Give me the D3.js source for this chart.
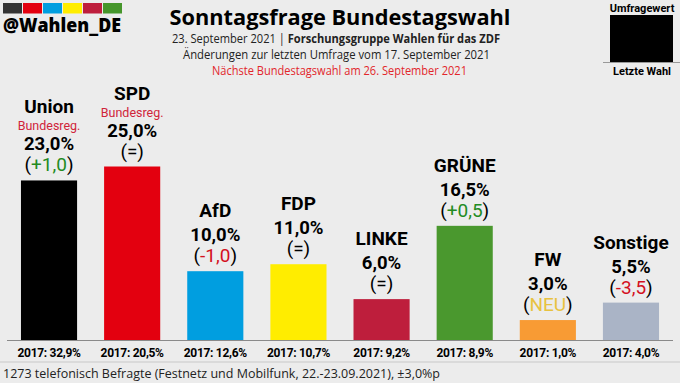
<!DOCTYPE html>
<html>
<head>
<meta charset="utf-8">
<script src="https://cdn.jsdelivr.net/npm/d3@7"></script>
<style>
  body { margin: 0; background: #ececec; }
  svg { display: block; font-family: Roboto, "Open Sans", sans-serif; }
</style>
</head>
<body>
<div id="chart"></div>
<script>
const parties = ['Union', 'SPD', 'AfD', 'FDP', 'LINKE', 'GRÜNE', 'FW', 'Sonstige'];
const values = [23.0, 25.0, 10.0, 11.0, 6.0, 16.5, 3.0, 5.5];
const changes = ['+1,0', '=', '-1,0', '=', '=', '+0,5', 'NEU', '-3,5'];
const lastElection = [32.9, 20.5, 12.6, 10.7, 9.2, 8.9, 1.0, 4.0];
const government = ['Union', 'SPD'];
const colors = ['#000000', '#e3000f', '#009ee0', '#ffed00', '#be1e3c', '#4a982e', '#f89b34', '#aab4c6'];
const logoColors = ['#333333', '#e3000f', '#009ee0', '#ffed00', '#be1e3c', '#46962b'];

const width = 680, height = 383;
const de = d3.formatLocale({decimal: ',', thousands: '.', grouping: [3], currency: ['', '€']});
const pct = de.format('.1f');

let data = parties.map((p, i) => ({
    party: p, value: values[i], change: changes[i], last: lastElection[i], color: colors[i]
}));

let svg = d3.select('#chart')
    .append('svg')
    .attr('width', width)
    .attr('height', height);

svg.append('rect').attr('width', width).attr('height', height).attr('fill', '#ececec');

let x = d3.scaleBand()
    .domain(parties)
    .range([7, 673])
    .paddingInner(0.325)
    .paddingOuter(0.168);

let y = d3.scaleLinear()
    .domain([0, 25])
    .range([341, 166.5]);

// header: logo
svg.selectAll('rect.logo')
    .data(logoColors)
    .enter()
    .append('rect')
    .attr('class', 'logo')
    .attr('x', (d, i) => 3 + i * 20)
    .attr('y', 3)
    .attr('width', 19)
    .attr('height', 10.5)
    .attr('fill', d => d);

svg.append('text')
    .attr('x', 3).attr('y', 32)
    .attr('font-family', '"Open Sans", sans-serif')
    .attr('font-weight', 800)
    .attr('font-size', 18.5)
    .attr('textLength', 118)
    .attr('lengthAdjust', 'spacingAndGlyphs')
    .text('@Wahlen_DE');

// title block
svg.append('text')
    .attr('x', 340).attr('y', 25)
    .attr('text-anchor', 'middle')
    .attr('font-family', '"Open Sans", sans-serif')
    .attr('font-weight', 700)
    .attr('font-size', 21)
    .attr('textLength', 341)
    .attr('lengthAdjust', 'spacingAndGlyphs')
    .text('Sonntagsfrage Bundestagswahl');

let sub1 = svg.append('text')
    .attr('x', 336).attr('y', 42.5)
    .attr('text-anchor', 'middle')
    .attr('font-family', '"Open Sans", sans-serif')
    .attr('font-size', 12)
    .attr('textLength', 328)
    .attr('lengthAdjust', 'spacingAndGlyphs')
    .attr('fill', '#222');
sub1.append('tspan').text('23. September 2021 | ');
sub1.append('tspan').attr('font-weight', 700).text('Forschungsgruppe Wahlen für das ZDF');

svg.append('text')
    .attr('x', 336.5).attr('y', 58.5)
    .attr('text-anchor', 'middle')
    .attr('font-family', '"Open Sans", sans-serif')
    .attr('font-size', 12)
    .attr('textLength', 307)
    .attr('lengthAdjust', 'spacingAndGlyphs')
    .attr('fill', '#222')
    .text('Änderungen zur letzten Umfrage vom 17. September 2021');

svg.append('text')
    .attr('x', 339.5).attr('y', 74.5)
    .attr('text-anchor', 'middle')
    .attr('font-family', '"Open Sans", sans-serif')
    .attr('font-size', 12)
    .attr('textLength', 255)
    .attr('lengthAdjust', 'spacingAndGlyphs')
    .attr('fill', '#e2262b')
    .text('Nächste Bundestagswahl am 26. September 2021');

// legend box top right
svg.append('text')
    .attr('x', 642).attr('y', 12)
    .attr('text-anchor', 'middle')
    .attr('font-weight', 700).attr('font-size', 11)
    .text('Umfragewert');
svg.append('rect')
    .attr('x', 610).attr('y', 15).attr('width', 63).attr('height', 47)
    .attr('fill', '#000');
svg.append('line')
    .attr('x1', 603).attr('x2', 680).attr('y1', 62.5).attr('y2', 62.5)
    .attr('stroke', '#999').attr('stroke-width', 1);
svg.append('text')
    .attr('x', 642).attr('y', 75)
    .attr('text-anchor', 'middle')
    .attr('font-weight', 700).attr('font-size', 11)
    .text('Letzte Wahl');

// bars
svg.selectAll('rect.bar')
    .data(data)
    .enter()
    .append('rect')
    .attr('class', 'bar')
    .attr('x', d => x(d.party))
    .attr('y', d => y(d.value))
    .attr('width', x.bandwidth())
    .attr('height', d => y(0) - y(d.value))
    .attr('fill', d => d.color);

// labels above bars
let labels = svg.selectAll('g.label')
    .data(data)
    .enter()
    .append('g')
    .attr('class', 'label')
    .attr('transform', d => `translate(${x(d.party) + x.bandwidth() / 2},${y(d.value)})`)
    .attr('text-anchor', 'middle');

labels.append('text')
    .attr('y', d => government.includes(d.party) ? -67 : -54)
    .attr('font-weight', 700).attr('font-size', 19)
    .text(d => d.party);

labels.filter(d => government.includes(d.party))
    .append('text')
    .attr('y', -50)
    .attr('font-size', 12.5)
    .attr('fill', '#d0243a')
    .text('Bundesreg.');

labels.append('text')
    .attr('y', -30)
    .attr('font-weight', 700).attr('font-size', 18.5)
    .text(d => pct(d.value) + '%');

let chg = labels.append('text')
    .attr('y', -9)
    .attr('font-size', 19);
chg.append('tspan').text('(');
chg.append('tspan')
    .attr('fill', d => d.change === '=' ? '#000' : d.change === 'NEU' ? '#e8c240' : d.change[0] === '+' ? '#228b22' : '#d4101e')
    .text(d => d.change);
chg.append('tspan').text(')');

// baseline
svg.append('line')
    .attr('x1', 7).attr('x2', 673).attr('y1', y(0) - 0.5).attr('y2', y(0) - 0.5)
    .attr('stroke', '#8a8a8a').attr('stroke-width', 1);

// 2017 results
svg.selectAll('text.last')
    .data(data)
    .enter()
    .append('text')
    .attr('class', 'last')
    .attr('x', d => x(d.party) + x.bandwidth() / 2)
    .attr('y', 357)
    .attr('text-anchor', 'middle')
    .attr('font-weight', 700).attr('font-size', 12)
    .attr('letter-spacing', -0.3)
    .text(d => '2017: ' + pct(d.last) + '%');

// footer
svg.append('line')
    .attr('x1', 0).attr('x2', width).attr('y1', 362).attr('y2', 362)
    .attr('stroke', '#c8c8c8').attr('stroke-width', 1);
svg.append('text')
    .attr('x', 3).attr('y', 378)
    .attr('font-family', '"Open Sans", sans-serif')
    .attr('font-size', 13)
    .attr('textLength', 437)
    .attr('lengthAdjust', 'spacingAndGlyphs')
    .attr('fill', '#222')
    .text('1273 telefonisch Befragte (Festnetz und Mobilfunk, 22.-23.09.2021), ±3,0%p');
</script>
</body>
</html>
